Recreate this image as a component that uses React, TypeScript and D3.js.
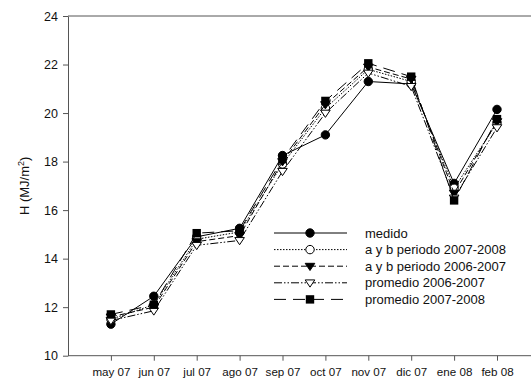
import React, { useEffect, useRef } from "react";
import * as d3 from "d3";

const months = ["may 07", "jun 07", "jul 07", "ago 07", "sep 07", "oct 07", "nov 07", "dic 07", "ene 08", "feb 08"];
const yTicks = [10, 12, 14, 16, 18, 20, 22, 24];

const medido = [11.3, 12.45, 14.9, 15.25, 18.25, 19.1, 21.3, 21.2, 17.1, 20.15];
const ab0708 = [11.5, 12.1, 14.8, 15.1, 17.9, 20.2, 21.8, 21.3, 16.9, 19.6];
const ab0607 = [11.6, 12.0, 14.7, 14.95, 18.0, 20.35, 21.9, 21.4, 16.7, 19.65];
const prom0607 = [11.45, 11.85, 14.55, 14.75, 17.6, 20.0, 21.65, 21.1, 16.5, 19.4];
const prom0708 = [11.7, 12.1, 15.05, 15.15, 18.1, 20.5, 22.05, 21.5, 16.4, 19.75];

const seriesNames = ["medido", "a y b periodo 2007-2008", "a y b periodo 2006-2007", "promedio 2006-2007", "promedio 2007-2008"];
const seriesValues = [medido, ab0708, ab0607, prom0607, prom0708];
const dashes = ["", "1.5,1.5", "6,3", "8,2,1.5,2,1.5,2", "12,7"];
const markers = ["circle", "circleOpen", "triDown", "triDownOpen", "square"];

export default function App() {
    const ref = useRef<SVGSVGElement>(null);

    useEffect(() => {
        const svg = d3.select(ref.current);
        svg.selectAll("*").remove();

        const left = 68, top = 16, bottom = 355.7;
        const step = 42.9;
        const x = d3.scaleLinear().domain([-1, 10]).range([left, left + 11 * step]);
        const y = d3.scaleLinear().domain([10, 24]).range([bottom, top]);

        const font = "Arial, 'Liberation Sans', sans-serif";

        // top frame line, plot runs off the right edge
        svg.append("line").attr("x1", left).attr("x2", 540).attr("y1", top).attr("y2", top)
            .attr("stroke", "#555").attr("stroke-width", 1);

        const yAxis = svg.append("g")
            .attr("transform", `translate(${left},0)`)
            .call(d3.axisLeft(y).tickValues(yTicks).tickSize(5).tickSizeOuter(0).tickPadding(5));
        yAxis.select(".domain").attr("stroke", "#555");
        yAxis.selectAll(".tick line").attr("stroke", "#555");
        yAxis.selectAll(".tick text").attr("font-size", 12.5).attr("font-family", font).attr("fill", "#111");

        const xAxis = svg.append("g")
            .attr("transform", `translate(0,${bottom})`)
            .call(d3.axisBottom(x).tickValues(d3.range(months.length)).tickFormat((d) => months[+d])
                .tickSize(5).tickSizeOuter(0).tickPadding(7));
        xAxis.select(".domain").attr("stroke", "#555").attr("d", `M${left},0H540`);
        xAxis.selectAll(".tick line").attr("stroke", "#555");
        xAxis.selectAll(".tick text").attr("font-size", 11.6).attr("font-family", font).attr("fill", "#111");

        const drawMarker = (g: any, kind: string, cx: number, cy: number) => {
            if (kind === "circle" || kind === "circleOpen") {
                g.append("circle").attr("cx", cx).attr("cy", cy).attr("r", 4.2)
                    .attr("fill", kind === "circle" ? "#000" : "#fff").attr("stroke", "#000").attr("stroke-width", 1);
            } else if (kind === "square") {
                g.append("rect").attr("x", cx - 4.2).attr("y", cy - 4.2).attr("width", 8.4).attr("height", 8.4)
                    .attr("fill", "#000");
            } else {
                const s = 4.8;
                g.append("path")
                    .attr("d", `M${cx - s},${cy - s * 0.6}L${cx + s},${cy - s * 0.6}L${cx},${cy + s * 0.9}Z`)
                    .attr("fill", kind === "triDown" ? "#000" : "#fff").attr("stroke", "#000").attr("stroke-width", 1);
            }
        };

        const line = d3.line<number>().x((d, i) => x(i)).y((d) => y(d));

        seriesValues.forEach((vals, si) => {
            const g = svg.append("g");
            g.append("path").attr("d", line(vals)).attr("fill", "none").attr("stroke", "#000")
                .attr("stroke-width", 1).attr("stroke-dasharray", dashes[si]);
            vals.forEach((v, i) => drawMarker(g, markers[si], x(i), y(v)));
        });

        // legend
        const lx0 = 274, lx1 = 347, lm = 310, tx = 365;
        seriesNames.forEach((name, si) => {
            const ly = 233 + si * 16.6;
            const g = svg.append("g");
            g.append("line").attr("x1", lx0).attr("x2", lx1).attr("y1", ly).attr("y2", ly)
                .attr("stroke", "#000").attr("stroke-width", 1).attr("stroke-dasharray", dashes[si]);
            drawMarker(g, markers[si], lm, ly);
            g.append("text").attr("x", tx).attr("y", ly + 4.5).attr("font-size", 13)
                .attr("font-family", font).attr("fill", "#111").text(name);
        });

        // y label
        const yl = svg.append("text")
            .attr("transform", `translate(29,${(top + bottom) / 2}) rotate(-90)`)
            .attr("text-anchor", "middle").attr("font-size", 13).attr("font-family", font).attr("fill", "#111");
        yl.append("tspan").text("H (MJ/m");
        yl.append("tspan").attr("baseline-shift", "super").attr("font-size", 9).text("2");
        yl.append("tspan").text(")");
    }, []);

    return (
        <svg ref={ref} width={531} height={385}
            style={{ position: "absolute", left: 0, top: 0, background: "#fff" }} />
    );
}
